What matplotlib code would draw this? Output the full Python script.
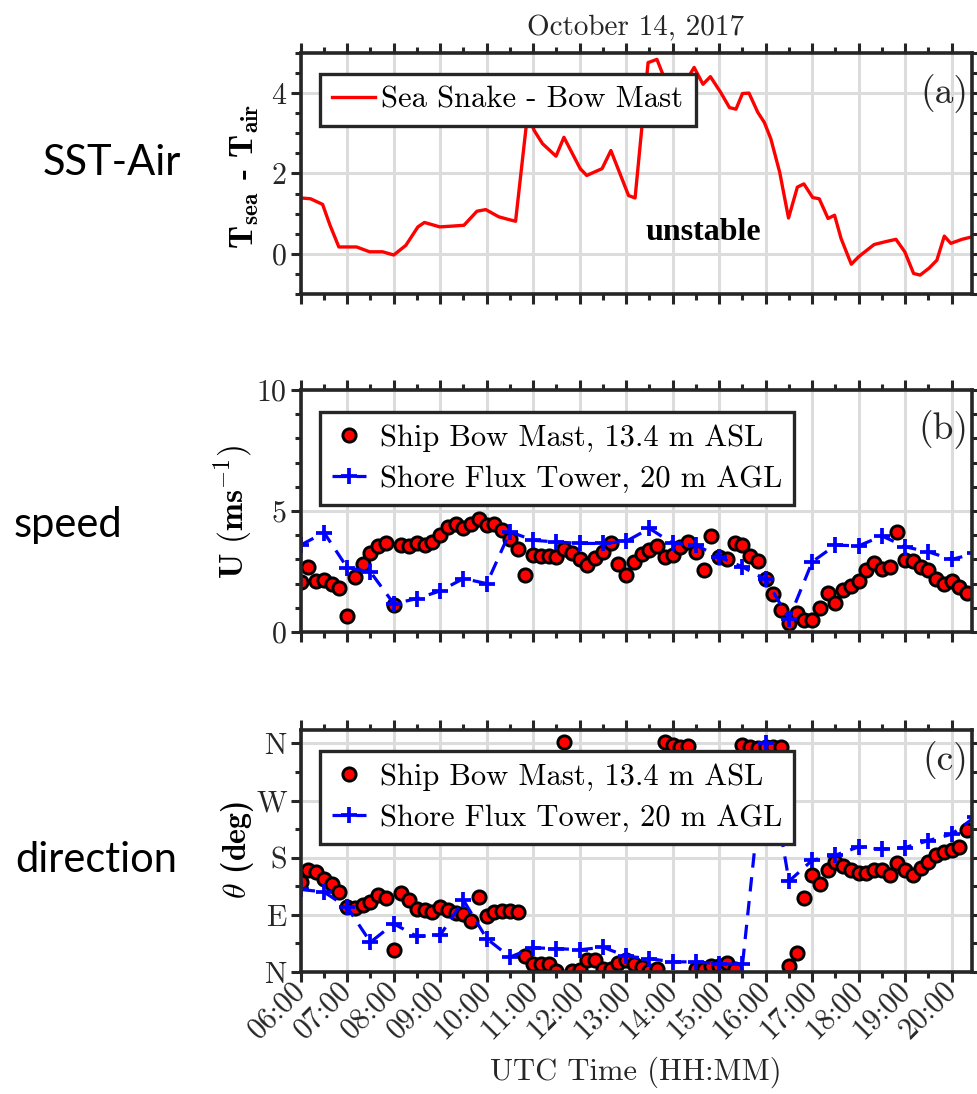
import numpy as np
import matplotlib
matplotlib.use('Agg')
import matplotlib.pyplot as plt
from matplotlib.ticker import MultipleLocator, FixedLocator

plt.rcParams['font.family'] = ['cmr10']
plt.rcParams['mathtext.fontset'] = 'cm'
plt.rcParams['axes.formatter.use_mathtext'] = True

# ---------------- data ----------------
# (a) SST - air temperature difference, time in decimal hours UTC
sst_time = [6.0, 6.21, 6.47, 6.63, 6.82, 7.2, 7.48, 7.76, 8.0, 8.26, 8.52, 8.66, 8.99,
            9.27, 9.51, 9.79, 9.98, 10.26, 10.45, 10.62, 10.88, 11.02, 11.2, 11.49,
            11.66, 12.01, 12.15, 12.48, 12.67, 13.05, 13.19, 13.47, 13.66, 13.8, 13.98,
            14.18, 14.46, 14.65, 14.81, 15.03, 15.22, 15.36, 15.5, 15.64, 15.83, 15.97,
            16.11, 16.3, 16.49, 16.68, 16.82, 17.01, 17.15, 17.34, 17.48, 17.62, 17.84,
            18.0, 18.33, 18.57, 18.8, 18.99, 19.18, 19.32, 19.51, 19.68, 19.84, 19.98,
            20.22, 20.43]
sst_diff = [1.39, 1.37, 1.23, 0.71, 0.17, 0.17, 0.05, 0.05, -0.03, 0.21, 0.67, 0.78, 0.67,
            0.69, 0.71, 1.06, 1.10, 0.92, 0.86, 0.81, 3.5, 3.07, 2.74, 2.43,
            2.9, 2.12, 1.95, 2.12, 2.57, 1.45, 1.39, 4.76, 4.84, 4.43, 4.2,
            4.1, 4.64, 4.22, 4.41, 4.02, 3.64, 3.6, 3.99, 4.0, 3.52, 3.27,
            2.86, 2.03, 0.89, 1.66, 1.74, 1.4, 1.37, 0.88, 0.96, 0.38, -0.26,
            -0.07, 0.23, 0.30, 0.36, 0.05, -0.49, -0.53, -0.36, -0.16, 0.44, 0.26,
            0.36, 0.42]

# ship bow mast: 10-minute samples starting 06:00
ship_start, ship_step = 6.0, 1.0 / 6.0
ship_speed = [2.07, 2.69, 2.11, 2.14, 1.97, 1.83, 0.66, 2.28, 2.83, 3.27,
              3.56, 3.66, 1.10, 3.61, 3.56, 3.66, 3.59, 3.72, 4.0, 4.34,
              4.48, 4.28, 4.46, 4.69, 4.44, 4.46, 4.21, 3.83, 3.42, 2.34,
              3.17, 3.14, 3.14, 3.08, 3.45, 3.28, 3.03, 2.76, 3.06, 3.31,
              3.68, 2.83, 2.34, 2.9, 3.24, 3.38, 3.56, 3.1, 3.17, 3.52,
              3.72, 3.31, 2.58, 3.97, 3.1, 3.03, 3.66, 3.59, 3.13, 2.92,
              2.18, 1.56, 0.9, 0.39, 0.8, 0.51, 0.51, 0.99, 1.61, 1.21,
              1.72, 1.89, 2.1, 2.55, 2.86, 2.62, 2.69, 4.14, 2.97, 2.94,
              2.69, 2.55, 2.17, 2.0, 2.11, 1.86, 1.61]
ship_dir = [142, 160, 158, 147, 139, 126, 102, 101, 105, 110,
            122, 116, 35, 124, 114, 100, 98, 95, 102, 98,
            93, 91, 81, 118, 88, 95, 96, 96, 95, 26,
            12, 12, 12, 1, 362, 1, 3, 19, 19, 4,
            5, 14, 19, 13, 8, 1, 4, 362, 357, 354,
            356, 5, 4, 9, 10, 14, 4, 358, 354, 352,
            355, 354, 355, 9, 30, 116, 152, 139, 161, 173,
            167, 160, 156, 156, 160, 160, 152, 171, 160, 152,
            163, 173, 184, 189, 192, 197, 224]

# shore flux tower: 30-minute samples starting 06:00
tower_start, tower_step = 6.0, 0.5
tower_speed = [3.59, 4.11, 2.66, 2.48, 1.17, 1.38, 1.7, 2.21, 2.0, 4.14,
               3.79, 3.72, 3.66, 3.66, 3.75, 4.28, 3.66, 3.59, 3.1, 2.69,
               2.17, 0.55, 2.9, 3.59, 3.56, 3.97, 3.52, 3.31, 3.0, 3.25]
tower_dir = [130, 126, 102, 47, 76, 56, 58, 113, 52.5, 23.6,
             38, 37, 35, 39, 25, 21, 16, 16, 13, 12,
             360, 143, 176, 184, 197, 193, 196, 207, 217, 244]

hour_labels = ['06:00', '07:00', '08:00', '09:00', '10:00', '11:00', '12:00', '13:00',
               '14:00', '15:00', '16:00', '17:00', '18:00', '19:00', '20:00']
dir_ticks = [0, 90, 180, 270, 360]
dir_labels = ['N', 'E', 'S', 'W', 'N']

ship_time = ship_start + ship_step * np.arange(len(ship_speed))
tower_time = tower_start + tower_step * np.arange(len(tower_speed))

# ---------------- figure ----------------
DARK = '#262626'
GRID = '#dcdcdc'

fig = plt.figure(figsize=(9.78, 10.94), dpi=100)
L, W = 0.3075, 0.6861
ax_a = fig.add_axes([L, 0.7313, W, 0.2203])
ax_b = fig.add_axes([L, 0.4223, W, 0.2212])
ax_c = fig.add_axes([L, 0.1115, W, 0.2212])


def style(ax):
    for s in ax.spines.values():
        s.set_linewidth(2.6)
        s.set_color(DARK)
    ax.set_xlim(6, 20.43)
    ax.xaxis.set_major_locator(MultipleLocator(1))
    ax.xaxis.set_minor_locator(MultipleLocator(0.5))
    ax.tick_params(which='both', direction='out', top=True, right=True, color=DARK,
                   width=2.2, labelsize=21.5, labelcolor=DARK, pad=3)
    ax.tick_params(which='major', length=7)
    ax.tick_params(which='minor', length=4.5)
    ax.grid(True, which='major', color=GRID, lw=2.2)
    ax.set_axisbelow(True)


for ax in (ax_a, ax_b, ax_c):
    style(ax)

leg_kw = dict(loc='upper left', fontsize=22, frameon=True, fancybox=False,
              edgecolor=DARK, framealpha=1, borderaxespad=0)
dot_kw = dict(ls='none', marker='o', ms=9.5, mfc='#ff0000', mec='black', mew=2.1)
tower_kw = dict(color='#0000ff', ls=(0, (4.5, 3)), lw=2.3, marker='+', ms=11.5, mew=2.7)

# (a)
ax_a.plot(sst_time, sst_diff, color='#ff0000', lw=2.4, label='Sea Snake - Bow Mast')
ax_a.set_ylim(-1, 5)
ax_a.set_yticks([0, 2, 4])
ax_a.yaxis.set_minor_locator(MultipleLocator(0.5))
ax_a.tick_params(labelbottom=False)
leg = ax_a.legend(bbox_to_anchor=(0.029, 0.913), handlelength=1.4, handletextpad=0.2,
                  borderpad=0.4, **leg_kw)
leg.get_frame().set_linewidth(2.4)
ax_a.text(14.65, 0.34, 'unstable', family='Liberation Serif', weight='bold',
          fontsize=23, ha='center', va='baseline')
ax_a.text(0.995, 0.833, '(a)', transform=ax_a.transAxes, fontsize=27, ha='right',
          va='center', color=DARK)
ax_a.set_ylabel(r'$\mathbf{T_{sea}}$ - $\mathbf{T_{air}}$', family='cmb10', fontsize=24)
ax_a.yaxis.label.set_va('center')
ax_a.yaxis.set_label_coords(-0.083, 0.49)

# (b)
ax_b.plot(ship_time, ship_speed, label='Ship Bow Mast, 13.4 m ASL', **dot_kw)
ax_b.plot(tower_time, tower_speed, label='Shore Flux Tower, 20 m AGL', **tower_kw)
ax_b.set_ylim(0, 10)
ax_b.set_yticks([0, 5, 10])
ax_b.yaxis.set_minor_locator(MultipleLocator(1))
ax_b.tick_params(labelbottom=False)
leg = ax_b.legend(bbox_to_anchor=(0.029, 0.909), handlelength=1.1, handletextpad=0.45,
                  borderpad=0.4, labelspacing=0.45, **leg_kw)
leg.get_frame().set_linewidth(2.4)
ax_b.text(0.995, 0.835, '(b)', transform=ax_b.transAxes, fontsize=27, ha='right',
          va='center', color=DARK)
ax_b.set_ylabel(r'$\mathbf{U\ (ms^{-1})}$', family='cmb10', fontsize=24)
ax_b.yaxis.label.set_va('center')
ax_b.yaxis.set_label_coords(-0.1009, 0.496)

# (c)
ax_c.plot(ship_time, ship_dir, label='Ship Bow Mast, 13.4 m ASL', **dot_kw)
ax_c.plot(tower_time, tower_dir, label='Shore Flux Tower, 20 m AGL', **tower_kw)
ax_c.set_ylim(0, 381)
ax_c.yaxis.set_major_locator(FixedLocator(dir_ticks))
ax_c.set_yticklabels(dir_labels)
ax_c.yaxis.set_minor_locator(MultipleLocator(45))
ax_c.set_xticks(np.arange(6, 21, 1))
ax_c.set_xticklabels(hour_labels, rotation=45, ha='right', va='center',
                     rotation_mode='anchor')
leg = ax_c.legend(bbox_to_anchor=(0.029, 0.913), handlelength=1.1, handletextpad=0.45,
                  borderpad=0.4, labelspacing=0.45, **leg_kw)
leg.get_frame().set_linewidth(2.4)
ax_c.text(0.995, 0.872, '(c)', transform=ax_c.transAxes, fontsize=27, ha='right',
          va='center', color=DARK)
ax_c.set_ylabel(r'$\theta$ (deg)', family='cmb10', fontsize=23)
ax_c.yaxis.label.set_va('center')
ax_c.yaxis.set_label_coords(-0.0949, 0.504)

fig.text(636 / 978, 1 - 1080 / 1094, 'UTC Time (HH:MM)', fontsize=22, ha='center',
         va='baseline', color=DARK)
fig.text(636 / 978, 1 - 35 / 1094, 'October 14, 2017', fontsize=21, ha='center',
         va='baseline', color=DARK)

side_kw = dict(family='Lato', fontsize=30, ha='left', va='baseline', color='black')
fig.text(43 / 978, 1 - 175 / 1094, 'SST-Air', **side_kw)
fig.text(14 / 978, 1 - 537 / 1094, 'speed', **side_kw)
fig.text(15 / 978, 1 - 872 / 1094, 'direction', **side_kw)

fig.savefig('out.png', dpi=100)
